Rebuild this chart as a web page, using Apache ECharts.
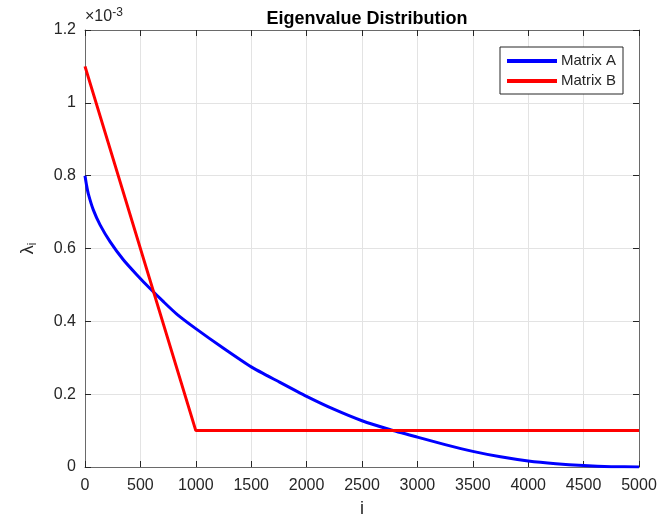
<!DOCTYPE html>
<html>
<head>
<meta charset="utf-8">
<script src="https://cdn.jsdelivr.net/npm/echarts@6/dist/echarts.min.js"></script>
<style>
html,body{margin:0;padding:0;background:#fff;}
#chart{width:660px;height:518px;}
</style>
</head>
<body>
<div id="chart"></div>
<script>
// values of lambda in units of 1e-3
var titleText = 'Eigenvalue Distribution';
var seriesNames = ['Matrix A', 'Matrix B'];
var matrixA_i   = [0, 15, 30, 75, 136, 226, 346, 467, 587, 708, 828, 1000, 1250, 1500, 1750, 2000, 2250, 2500, 2750, 3000, 3250, 3500, 3750, 4000, 4250, 4500, 4750, 5000];
var matrixA_val = [0.80, 0.772, 0.750, 0.706, 0.665, 0.619, 0.569, 0.528, 0.490, 0.454, 0.420, 0.380, 0.326, 0.275, 0.234, 0.194, 0.158, 0.127, 0.103, 0.082, 0.0615, 0.043, 0.028, 0.0165, 0.009, 0.004, 0.001, 0];
var matrixB_i   = [0, 1000, 5000];
var matrixB_val = [1.1, 0.1, 0.1];
var xTicks = [0, 500, 1000, 1500, 2000, 2500, 3000, 3500, 4000, 4500, 5000];
var yTicks = [0, 0.2, 0.4, 0.6, 0.8, 1, 1.2];

var FONT = 'Liberation Sans, Arial, Helvetica, sans-serif';
var AX = '#262626';

function pairs(xs, ys){ return xs.map(function(x, k){ return [x, ys[k]]; }); }
function plain(v){ return String(Math.round(v * 1000) / 1000); }

var chart = echarts.init(document.getElementById('chart'), null, {renderer: 'canvas'});
var gridBox = {left: 85, right: 21, top: 30, bottom: 51, containLabel: false, outerBoundsMode: 'none'};

var baseX = {
  type: 'value', min: xTicks[0], max: xTicks[xTicks.length-1], interval: 500
};
var baseY = {
  type: 'value', min: yTicks[0], max: yTicks[yTicks.length-1], interval: 0.2
};

chart.setOption({
  animation: false,
  backgroundColor: '#ffffff',
  title: {
    text: titleText, left: 362, top: 5, textAlign: 'center',
    textStyle: {fontFamily: FONT, fontSize: 18, fontWeight: 'bold', color: '#000'}
  },
  legend: {
    data: seriesNames, orient: 'vertical', left: 500, top: 47,
    padding: [4, 7, 3, 7], itemGap: 0, itemWidth: 50, itemHeight: 4, icon: 'rect',
    borderColor: AX, borderWidth: 1, backgroundColor: '#fff',
    textStyle: {fontFamily: FONT, fontSize: 15, color: AX, lineHeight: 20, padding: [0,0,0,-1]}
  },
  grid: gridBox,
  xAxis: [
    Object.assign({}, baseX, {
      position: 'bottom',
      name: 'i', nameLocation: 'middle', nameGap: 33,
      nameTextStyle: {fontFamily: FONT, fontSize: 18, color: AX},
      axisLine: {show: true, lineStyle: {color: '#6a6a6a', width: 1}},
      axisTick: {show: true, inside: true, length: 6, lineStyle: {color: AX}},
      axisLabel: {fontFamily: FONT, fontSize: 16, color: AX, margin: 11, formatter: plain},
      splitLine: {show: true, lineStyle: {color: '#e3e3e3', width: 1}}
    }),
    Object.assign({}, baseX, {
      position: 'top',
      axisLine: {show: true, onZero: false, lineStyle: {color: '#6a6a6a', width: 1}},
      axisTick: {show: true, inside: true, length: 6, lineStyle: {color: AX}},
      axisLabel: {show: false}, splitLine: {show: false}
    })
  ],
  yAxis: [
    Object.assign({}, baseY, {
      position: 'left',
      name: '{l|λ}{s|i}', nameLocation: 'middle', nameGap: 46, nameRotate: 90,
      nameTextStyle: {fontFamily: FONT, fontSize: 18, color: AX,
        rich: {l: {fontFamily: FONT, fontSize: 18, color: AX},
               s: {fontFamily: FONT, fontSize: 12, color: AX, verticalAlign: 'bottom', padding: [9,0,0,0]}}},
      axisLine: {show: true, lineStyle: {color: '#6a6a6a', width: 1}},
      axisTick: {show: true, inside: true, length: 6, lineStyle: {color: AX}},
      axisLabel: {fontFamily: FONT, fontSize: 16, color: AX, margin: 9, formatter: plain},
      splitLine: {show: true, lineStyle: {color: '#e3e3e3', width: 1}}
    }),
    Object.assign({}, baseY, {
      position: 'right',
      axisLine: {show: true, onZero: false, lineStyle: {color: '#6a6a6a', width: 1}},
      axisTick: {show: true, inside: true, length: 6, lineStyle: {color: AX}},
      axisLabel: {show: false}, splitLine: {show: false}
    })
  ],
  graphic: [{
    type: 'text', left: 85, top: 7,
    style: {
      text: '{a|×10}{b|-3}',
      rich: {
        a: {fontFamily: FONT, fontSize: 16, fill: AX},
        b: {fontFamily: FONT, fontSize: 12, fill: AX, verticalAlign: 'top', padding: [0,0,8,0]}
      }
    }
  }],
  series: [
    {
      name: seriesNames[0], type: 'line', xAxisIndex: 0, yAxisIndex: 0,
      data: pairs(matrixA_i, matrixA_val), showSymbol: false, symbol: 'none',
      smooth: 0.2,
      lineStyle: {color: '#0000ff', width: 3, join: 'round'}, itemStyle: {color: '#0000ff'}, z: 3
    },
    {
      name: seriesNames[1], type: 'line', xAxisIndex: 0, yAxisIndex: 0,
      data: pairs(matrixB_i, matrixB_val), showSymbol: false, symbol: 'none',
      lineStyle: {color: '#ff0000', width: 3}, itemStyle: {color: '#ff0000'}, z: 4
    }
  ]
});
</script>
</body>
</html>
